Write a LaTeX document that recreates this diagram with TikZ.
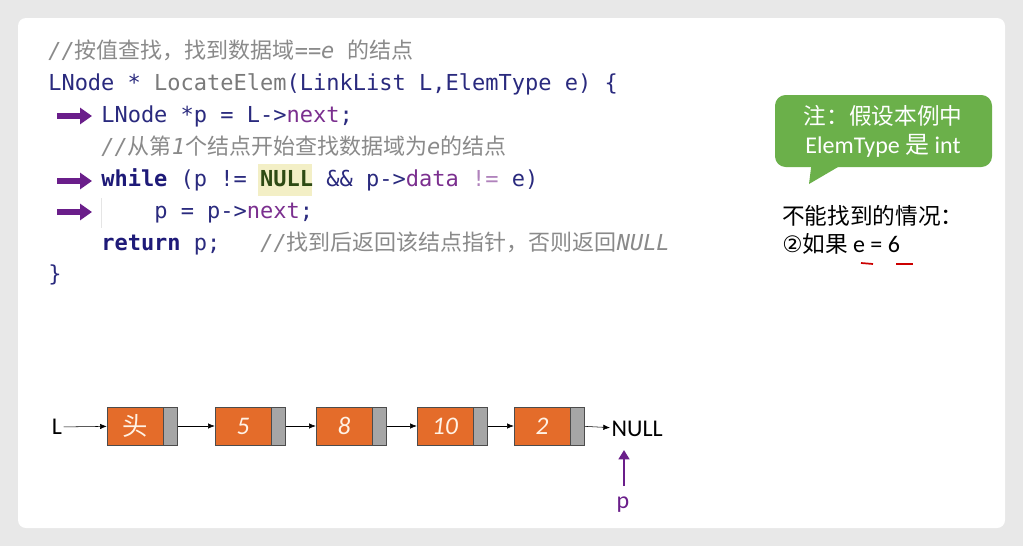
\documentclass[tikz,border=0pt]{standalone}
\usepackage{fontspec}
\setmonofont{DejaVu Sans Mono}
\setsansfont{Carlito}
\newfontfamily\cjk{Noto Sans CJK SC}
\newfontfamily\dvs{DejaVu Sans}
\usetikzlibrary{arrows.meta}
\definecolor{kw}{HTML}{1E1A78}
\definecolor{ty}{HTML}{2A2A7E}
\definecolor{fn}{HTML}{7A7A7A}
\definecolor{pu}{HTML}{7B2F8F}
\definecolor{cm}{HTML}{8A8A8A}
\definecolor{arr}{HTML}{6A1E8A}
\definecolor{orng}{HTML}{E46C2A}
\definecolor{gbox}{HTML}{A6A6A6}
\definecolor{grn}{HTML}{6BB04A}
\definecolor{hl}{HTML}{F3EFC6}
\definecolor{nullg}{HTML}{2E4A14}
\tikzset{
  code/.style={anchor=base west,inner sep=0pt,font=\ttfamily\fontsize{16.5}{18}\selectfont,text=ty},
  cmt/.style={code,text=cm,font=\ttfamily\itshape\fontsize{16.5}{18}\selectfont},
  parr/.style={-{Triangle[length=9pt,width=12pt]},line width=4.5pt,arr},
  dbox/.style={draw=black!70,fill=orng,minimum width=42pt,minimum height=28.5pt,inner sep=0pt,font=\sffamily\itshape\fontsize{19}{20}\selectfont,text=orange!10},
  pbox/.style={draw=black!70,fill=gbox,minimum width=10.5pt,minimum height=28.5pt,inner sep=0pt},
  link/.style={-{Latex[length=5pt,width=4pt]},thin,black},
  lbl/.style={font=\sffamily\fontsize{18}{19}\selectfont,inner sep=1pt},
}
\begin{document}
\begin{tikzpicture}[x=0.75pt,y=-0.75pt]
\fill[black!9] (0,0) rectangle (1023,546);
\useasboundingbox (0,0) rectangle (1023,546);
\fill[white,rounded corners=6pt] (18,18) rectangle (1005,528);
% code
\node[cmt] (c1) at (48,58) {//{\cjk\upshape 按值查找，找到数据域}==e {\cjk\upshape 的结点}};
\node[code] (c2) at (48,90) {LNode * \textcolor{fn}{LocateElem}(LinkList L,ElemType e) \{};
\node[code] (c3) at (101,122) {LNode *p = L->\textcolor{pu}{next};};
\node[cmt] (c4) at (101,154) {//{\cjk\upshape 从第}1{\cjk\upshape 个结点开始查找数据域为}e{\cjk\upshape 的结点}};
\node[fill=hl,minimum width=41pt,minimum height=24pt,inner sep=0pt] (hlb) at (285,180) {};
\node[code] (c5) at (101,186) {\textcolor{kw}{\bfseries while} (p != \textcolor{nullg}{\bfseries NULL} \&\& p->\textcolor{pu}{data} \textcolor{pu!60}{!=} e)};
\draw[black!10] (101,198) -- (101,228);
\node[code] (c6) at (154,218) {p = p->\textcolor{pu}{next};};
\node[code] (c7) at (101,250) {\textcolor{kw}{\bfseries return} p;};
\node[cmt] (c7b) at (260,250) {//{\cjk\upshape 找到后返回该结点指针，否则返回}NULL};
\node[code] (c8) at (48,281) {\}};
\coordinate (a1s) at (57,116); \coordinate (a1e) at (92,116);
\coordinate (a2s) at (57,181); \coordinate (a2e) at (92,181);
\coordinate (a3s) at (57,212); \coordinate (a3e) at (92,212);
\draw[parr] (a1s) -- (a1e);
\draw[parr] (a2s) -- (a2e);
\draw[parr] (a3s) -- (a3e);
% callout
\fill[grn,rounded corners=8pt] (775,95) rectangle (992,167);
\fill[grn] (812,160) -- (809,184) -- (850,160) -- cycle;
\node[text=white,font=\cjk\fontsize{17}{19}\selectfont,inner sep=0pt] (n1) at (883,116) {注：假设本例中};
\node[text=white,font=\sffamily\fontsize{18}{19}\selectfont,inner sep=0pt] (n2) at (883,146) {ElemType {\cjk 是} int};
\node[anchor=base west,font=\cjk\fontsize{17}{19}\selectfont,inner sep=0pt] (t1) at (782,224) {不能找到的情况：};
\node[anchor=base west,font=\cjk\fontsize{17}{19}\selectfont,inner sep=0pt] (t2) at (782,252) {{\dvs ②}如果 {\sffamily\fontsize{18}{19}\selectfont e = 6}};
\draw[red!80!black,line width=1.3pt] (861,263) -- (873,264);
\draw[red!80!black,line width=1.3pt] (896,264) -- (913,264);
% list
\node[lbl] (L) at (57,427) {L};
\node[dbox] (d0) at (135,426) {\cjk\upshape 头};
\node[pbox,anchor=west] (p0) at (d0.east) {};
\node[dbox] (d1) at (243,426) {5};
\node[pbox,anchor=west] (p1) at (d1.east) {};
\node[dbox] (d2) at (344,426) {8};
\node[pbox,anchor=west] (p2) at (d2.east) {};
\node[dbox] (d3) at (445,426) {10};
\node[pbox,anchor=west] (p3) at (d3.east) {};
\node[dbox] (d4) at (542,426) {2};
\node[pbox,anchor=west] (p4) at (d4.east) {};
\node[lbl,anchor=west] (nl) at (610,429) {NULL};
\draw[link] (L) -- (d0);
\draw[link] (p0) -- (d1);
\draw[link] (p1) -- (d2);
\draw[link] (p2) -- (d3);
\draw[link] (p3) -- (d4);
\draw[link] (p4) -- (nl);
\node[lbl,text=arr] (p) at (623,505) {p};
\coordinate (ps) at (624,486);
\coordinate (pe) at (624,450);
\draw[-{Triangle[length=7pt,width=8pt]},line width=2pt,arr] (ps) -- (pe);
\end{tikzpicture}
\end{document}
